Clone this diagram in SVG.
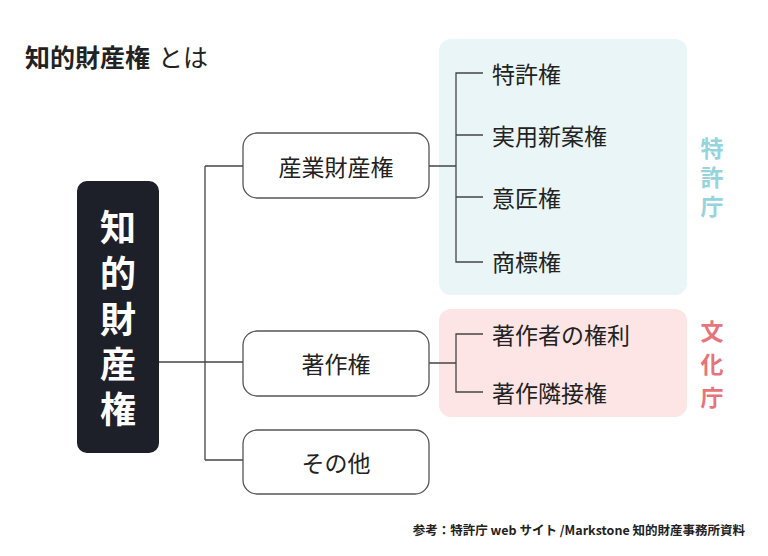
<svg xmlns="http://www.w3.org/2000/svg" width="768" height="556" viewBox="0 0 768 556">
<style>
text{font-family:"Noto Sans CJK JP","Noto Sans",sans-serif;fill:#222}
.box{fill:#fff;stroke:#555;stroke-width:1.3}
.ln{stroke:#444;stroke-width:1.3;fill:none}
.t{font-size:23px;dominant-baseline:central}
.c{text-anchor:middle}
.v{dominant-baseline:central}
</style>
<rect width="768" height="556" fill="#fff"/>
<text x="25" y="67" font-size="25" font-weight="bold">知的財産権<tspan font-weight="normal" dx="8">とは</tspan></text>
<rect x="439" y="39" width="248" height="256" rx="12" fill="#e9f5f7"/>
<rect x="439" y="309" width="248" height="108" rx="12" fill="#fde5e6"/>
<g id="connectors" class="ln">
<path d="M159 362H205M205 166V460M205 166H243M205 362H243M205 460H243"/>
<path d="M429 166H456M483 73H456V262H483M456 135H483M456 197H483"/>
<path d="M429 363H456M483 334H456V392H483"/>
</g>
<g id="root"><rect x="77" y="181" width="82" height="272" rx="10" fill="#1e2029"/>
<g class="c v" font-size="36" font-weight="bold"><text class="v" x="118" y="225" style="fill:#fff">知</text><text class="v" x="118" y="271" style="fill:#fff">的</text><text class="v" x="118" y="317" style="fill:#fff">財</text><text class="v" x="118" y="362" style="fill:#fff">産</text><text class="v" x="118" y="407" style="fill:#fff">権</text></g></g>
<g id="n1"><rect class="box" x="243" y="133" width="186" height="65" rx="14"/><text class="t c" x="336" y="166">産業財産権</text></g>
<g id="n2"><rect class="box" x="243" y="331" width="186" height="65" rx="14"/><text class="t c" x="336" y="363">著作権</text></g>
<g id="n3"><rect class="box" x="243" y="430" width="186" height="64" rx="14"/><text class="t c" x="336" y="462">その他</text></g>
<g id="leaves">
<text class="t" x="492" y="73">特許権</text>
<text class="t" x="492" y="135">実用新案権</text>
<text class="t" x="492" y="197">意匠権</text>
<text class="t" x="492" y="261">商標権</text>
<text class="t" x="492" y="334">著作者の権利</text>
<text class="t" x="492" y="392">著作隣接権</text>
</g>
<g class="c" font-size="23" font-weight="bold">
<text class="v" x="712" y="147" style="fill:#95d4dc">特</text><text class="v" x="712" y="176" style="fill:#95d4dc">許</text><text class="v" x="712" y="205" style="fill:#95d4dc">庁</text>
<text class="v" x="712" y="330" style="fill:#e8747b">文</text><text class="v" x="712" y="363" style="fill:#e8747b">化</text><text class="v" x="712" y="396" style="fill:#e8747b">庁</text>
</g>
<text x="745" y="535" font-size="12.5" font-weight="bold" text-anchor="end">参考：特許庁 web サイト /Markstone 知的財産事務所資料</text>
</svg>
